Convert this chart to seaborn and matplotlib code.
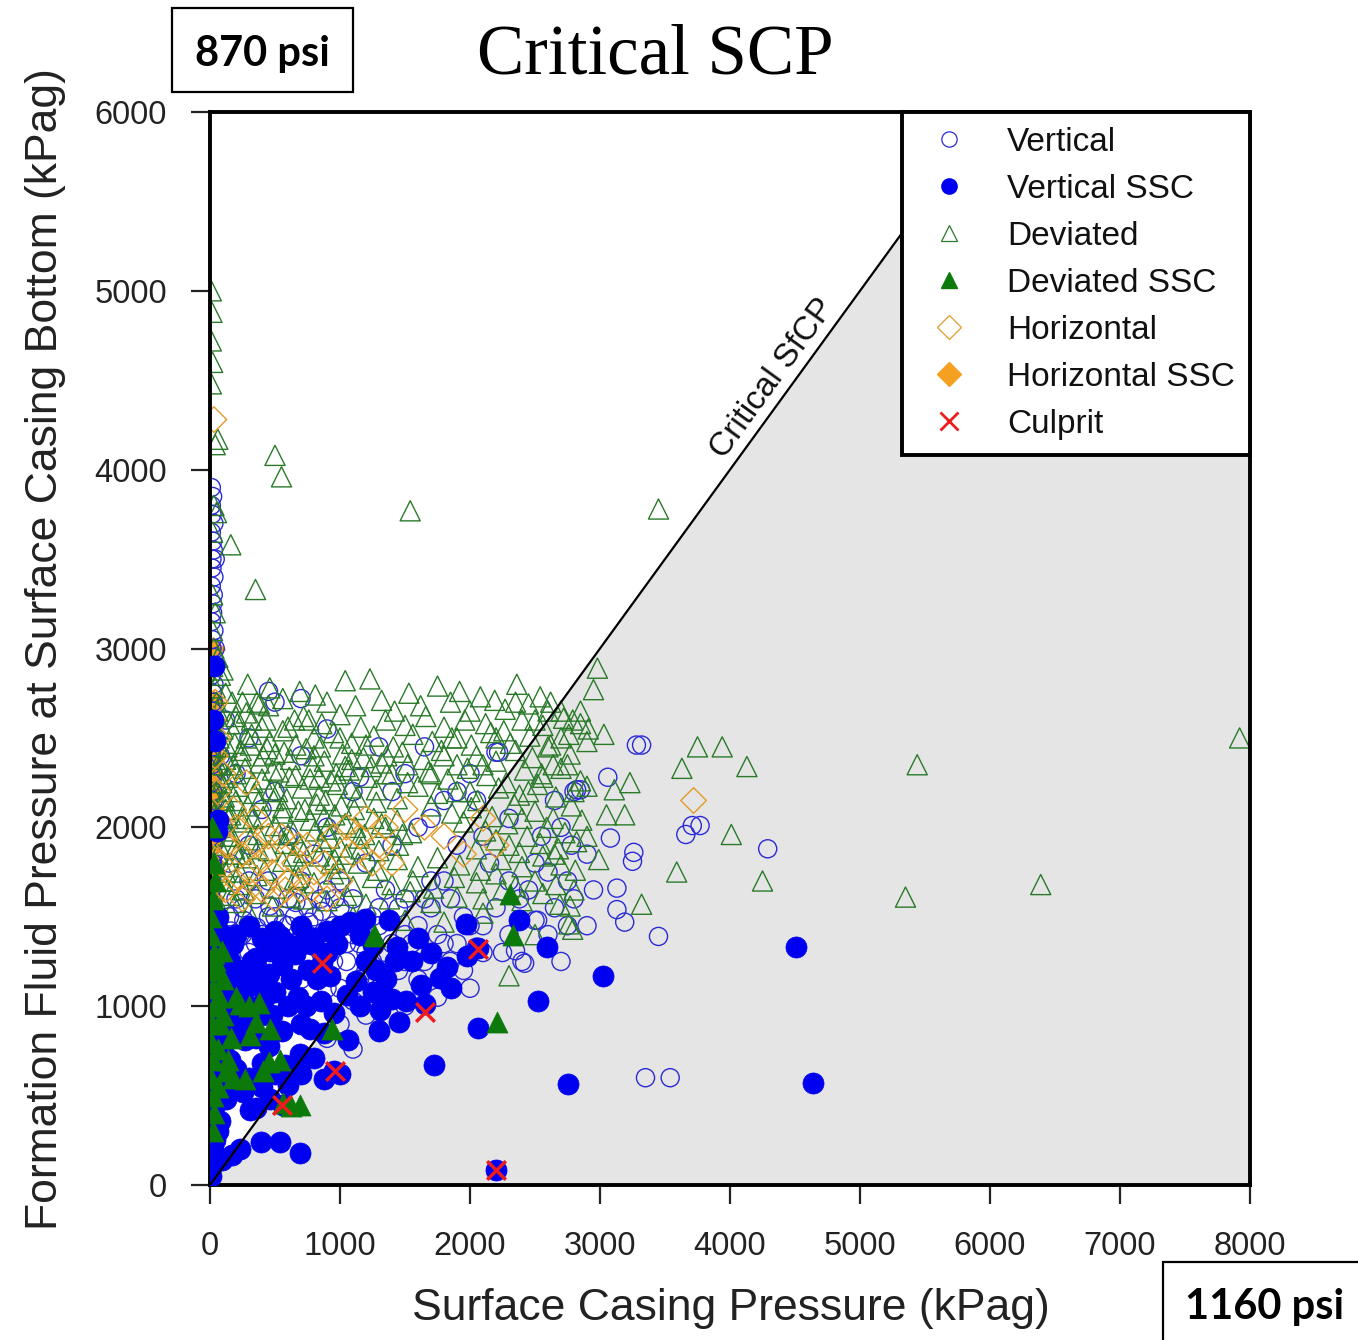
import matplotlib
matplotlib.use("Agg")
import matplotlib.pyplot as plt
import seaborn as sns
import pandas as pd
from matplotlib.lines import Line2D
from matplotlib.patches import Rectangle

# ---------------- data (kPag) ----------------
x_ticks = [0, 1000, 2000, 3000, 4000, 5000, 6000, 7000, 8000]
y_ticks = [0, 1000, 2000, 3000, 4000, 5000, 6000]

sfcp_x = [0, 6000]
sfcp_y = [0, 6000]

vertical_pts = [
    (10, 3900), (20, 3850), (15, 3750), (10, 3650), (25, 3550), (15, 3450), (10, 3350), (20, 3250), (10, 3150), (15, 3050),
    (25, 2950), (10, 2850), (20, 2750), (15, 2650), (10, 2550), (20, 2450), (15, 2350), (10, 2250), (25, 2150), (15, 2050),
    (10, 1950), (20, 1850), (15, 1750), (10, 1650), (25, 1550), (15, 1450), (10, 1350), (20, 1250), (15, 1150), (10, 1050),
    (20, 950), (15, 850), (10, 750), (20, 650), (15, 550), (10, 450), (20, 350), (15, 250), (30, 3700), (30, 3400),
    (30, 3100), (30, 2800), (300, 1700), (450, 1500), (600, 1450), (750, 1550), (900, 1400), (1050, 1350), (1200, 1450), (1350, 1300),
    (1500, 1400), (1650, 1250), (1800, 1350), (1950, 1200), (2100, 1450), (2250, 1300), (2400, 1250), (2500, 1480), (2600, 1750), (2750, 1700),
    (2900, 1850), (2800, 2200), (2850, 2210), (2200, 2420), (2000, 2300), (1800, 2150), (1600, 2000), (1400, 1900), (1200, 1800), (1000, 1700),
    (800, 1850), (600, 1950), (400, 2100), (200, 2300), (300, 2500), (500, 2700), (700, 2720), (450, 2760), (900, 2550), (1150, 2280),
    (1400, 2200), (1650, 2450), (2050, 2150), (2300, 2050), (2550, 1950), (2700, 2000), (2450, 1650), (2150, 1800), (1900, 1900), (1700, 1700),
    (1500, 1600), (1300, 1550), (1100, 1600), (950, 1250), (1150, 1150), (1300, 1100), (1450, 1200), (1600, 1150), (1750, 1050), (2000, 1100),
    (1100, 1030), (900, 1100), (700, 1150), (500, 1250), (350, 1350), (250, 1550), (150, 1800), (100, 2000), (80, 2400), (120, 2600),
    (1850, 1600), (2650, 1550), (2950, 1650), (1950, 1500), (1250, 1250), (850, 1300), (650, 1350), (1000, 900), (1100, 760), (900, 820),
    (1200, 950), (1300, 870), (1500, 1000), (2050, 1330), (2380, 1600), (2780, 1900), (2650, 2150), (3280, 2460), (3320, 2460), (3060, 2280),
    (3080, 1940), (3260, 1860), (3250, 1810), (3130, 1660), (3130, 1540), (3190, 1470), (3450, 1390), (3660, 1960), (3710, 2010), (3770, 2010),
    (4290, 1880), (3350, 600), (3540, 600), (2820, 2210), (2750, 1450), (2420, 1240), (2350, 1310), (2520, 1480), (2220, 2420),
    (10, 3800), (20, 3600), (15, 3500), (25, 3300), (20, 3200), (15, 3000), (10, 2900), (25, 2700), (20, 2600), (15, 2500),
    (10, 2400), (25, 2300), (20, 2200), (15, 2100), (10, 2000), (25, 1900), (20, 1800), (15, 1700), (10, 1600), (25, 1500),
    (20, 1400), (15, 1300), (10, 1200), (25, 1100), (20, 1000), (15, 900), (10, 800), (25, 700), (20, 600), (15, 500),
    (10, 400), (25, 300), (20, 200), (40, 3500), (40, 3000), (45, 2500), (40, 2000), (45, 1500), (40, 1000), (45, 500),
    (200, 1200), (300, 1300), (400, 1400), (500, 1500), (600, 1600), (700, 1700), (800, 1500), (900, 1650), (1000, 1550), (1100, 1400),
    (1200, 1300), (1300, 1450), (1400, 1350), (1500, 1250), (1600, 1450), (1700, 1550), (1800, 1700), (1900, 1350), (2000, 1450), (2100, 1300),
    (2200, 1550), (2300, 1400), (150, 1500), (250, 1400), (350, 1600), (450, 1700), (550, 1300), (650, 1500), (750, 1400), (850, 1600),
    (950, 1450), (1050, 1250), (1150, 1350), (1250, 1500), (1350, 1650), (1450, 1550), (1550, 1350), (1650, 1600), (1750, 1400), (1850, 1250),
    (100, 1300), (200, 1600), (300, 1900), (500, 2200), (700, 2400), (900, 2000), (1100, 2200), (1300, 2450), (1500, 2300), (1700, 2050),
    (1900, 2200), (2100, 1950), (2300, 1700), (2500, 1800), (2600, 1400), (2700, 1250), (2800, 1600), (2900, 1450), (1000, 1100), (1200, 1200),
    (60, 1450), (160, 1420), (260, 1480), (360, 1440), (460, 1560), (560, 1460), (660, 1580), (760, 1470), (860, 1530), (960, 1600),
]

vertical_ssc_pts = [
    (10, 100), (20, 200), (15, 300), (10, 400), (25, 500), (15, 600), (10, 700), (20, 800), (15, 900), (10, 1000),
    (25, 1100), (15, 1200), (10, 1300), (20, 1400), (15, 1500), (60, 2040), (40, 2480), (30, 2900), (50, 1980), (20, 2600),
    (4510, 1330), (4640, 570), (3020, 1170), (2750, 565), (2520, 1030), (2590, 1330), (2380, 1480), (2060, 1325), (1970, 1460), (2060, 880),
    (1720, 670), (2200, 84), (1650, 1010), (1620, 1120), (1770, 1160), (1820, 1220), (1980, 1280), (1450, 910), (1310, 980), (1300, 860),
    (1510, 1030), (1380, 1480), (1440, 1330), (1250, 1340), (1120, 1140), (1060, 810), (1000, 620), (880, 590), (690, 180), (390, 240),
    (230, 200), (170, 170), (90, 140), (540, 240), (310, 420), (460, 480), (580, 670), (690, 730), (770, 870), (850, 1030),
    (920, 1170), (690, 1340), (540, 1390), (460, 1310), (350, 1120), (230, 980), (150, 700), (270, 810), (120, 480), (80, 360),
    (400, 550), (1080, 1470), (1190, 1490), (860, 1240), (950, 640), (560, 450), (200, 1400), (300, 1450), (400, 1380), (500, 1420),
    (600, 1350), (700, 1450), (800, 1380), (900, 1420), (150, 1250), (250, 1200), (350, 1270), (450, 1180), (550, 1230), (650, 1290),
    (750, 1200), (100, 1100), (200, 1050), (300, 1000), (400, 950), (500, 1080), (600, 1000), (700, 900), (150, 900), (250, 880),
    (350, 820), (450, 780), (550, 860), (100, 750), (200, 650), (300, 600), (400, 680), (500, 620), (600, 560), (250, 520),
    (150, 560), (50, 600), (350, 430), (700, 620), (800, 710), (880, 850), (950, 960), (1050, 1060), (1150, 1000), (1250, 1080),
    (1350, 1150), (1400, 1040), (1550, 1250), (1700, 1300), (1600, 1380), (1850, 1100),
    (10, 50), (30, 150), (40, 250), (30, 350), (40, 450), (30, 550), (40, 650), (30, 750), (40, 850), (30, 950),
    (40, 1050), (30, 1150), (40, 1250), (30, 1350), (40, 1450), (60, 1500), (70, 1300), (60, 1100), (70, 900), (60, 700),
    (70, 500), (60, 300), (100, 1400), (120, 1200), (130, 1000), (110, 850), (140, 650), (100, 550), (180, 1350), (220, 1150),
    (260, 950), (280, 1100), (320, 1250), (380, 1150), (420, 1050), (480, 950), (520, 1300), (620, 1150), (680, 1050), (740, 1000),
    (780, 1350), (820, 1150), (900, 1300), (980, 1350), (1000, 1450), (1150, 1400), (1200, 1250), (1280, 1200), (1350, 1050), (1420, 1250),
]

deviated_pts = [
    (10, 5000), (15, 4880), (10, 4720), (20, 4600), (10, 4480), (60, 4170), (40, 4140), (30, 3800), (50, 3760), (20, 3650),
    (30, 3000), (60, 2950), (20, 2900), (80, 2850), (40, 2780), (500, 4080), (550, 3960), (160, 3580), (350, 3330), (1540, 3770),
    (3450, 3780), (7920, 2500), (5440, 2350), (5350, 1610), (6390, 1680), (4250, 1700), (4130, 2340), (3940, 2450), (3750, 2450), (3630, 2330),
    (4010, 1960), (3590, 1750), (3320, 1570), (2300, 1170), (2790, 1430), (2770, 1560), (2810, 1760), (3050, 2070), (3110, 2210), (3190, 2070),
    (3230, 2250), (2990, 1820), (2980, 2890), (2950, 2770), (2790, 2600), (3030, 2520), (2910, 2550),
    (460, 2780), (690, 2760), (810, 2740), (1040, 2820), (1230, 2830), (1530, 2750), (1750, 2790), (1920, 2760), (2080, 2730), (2190, 2710),
    (2360, 2800), (2540, 2730), (120, 2750), (250, 2700), (380, 2690), (560, 2720), (900, 2700), (1120, 2680), (1320, 2710), (1420, 2650),
    (1620, 2680), (1850, 2700), (2000, 2650), (2270, 2660), (2450, 2690), (2620, 2700), (2700, 2650),
    (30, 2620), (150, 2580), (280, 2640), (430, 2600), (600, 2560), (720, 2620), (860, 2580), (1000, 2630), (1160, 2560), (1350, 2600),
    (1500, 2570), (1660, 2620), (1800, 2560), (1960, 2600), (2120, 2580), (2260, 2540), (2400, 2600), (2560, 2570), (2720, 2610), (2850, 2580),
    (70, 2500), (190, 2470), (320, 2520), (460, 2480), (560, 2540), (660, 2460), (800, 2500), (950, 2530), (1090, 2470), (1260, 2510),
    (1410, 2450), (1560, 2520), (1710, 2480), (1860, 2500), (2010, 2460), (2160, 2530), (2310, 2470), (2460, 2510), (2620, 2460), (2760, 2520),
    (2900, 2480), (20, 2400), (120, 2380), (240, 2430), (380, 2360), (500, 2410), (620, 2380), (740, 2440), (880, 2370), (1020, 2410),
    (1180, 2390), (1320, 2360), (1480, 2420), (1640, 2380), (1780, 2430), (1900, 2350), (2050, 2400), (2200, 2370), (2350, 2430), (2480, 2390),
    (2640, 2350), (2770, 2410), (40, 2300), (140, 2280), (270, 2330), (400, 2270), (530, 2310), (660, 2290), (790, 2340), (930, 2260),
    (1070, 2320), (1210, 2280), (1360, 2300), (1520, 2250), (1680, 2310), (1830, 2270), (1980, 2330), (2130, 2290), (2280, 2250), (2420, 2320),
    (2560, 2280), (2700, 2330), (2850, 2260), (10, 2200), (110, 2170), (220, 2230), (340, 2190), (470, 2210), (590, 2160), (710, 2220),
    (840, 2180), (980, 2240), (1130, 2170), (1280, 2210), (1440, 2160), (1600, 2230), (1750, 2190), (1900, 2200), (2060, 2150), (2220, 2220),
    (2380, 2180), (2520, 2240), (2660, 2170), (2800, 2200), (2900, 2230), (50, 2100), (160, 2070), (290, 2120), (410, 2060), (560, 2110),
    (680, 2090), (820, 2130), (960, 2070), (1110, 2100), (1260, 2050), (1700, 2120), (1860, 2080), (2010, 2110), (2170, 2060), (2340, 2130),
    (2500, 2090), (2640, 2050), (2780, 2120), (25, 2000), (130, 1980), (250, 2030), (370, 1960), (500, 2010), (640, 1970), (770, 2040),
    (900, 1990), (1040, 2020), (1190, 1960), (1350, 2000), (1550, 1970), (1950, 2030), (2120, 1980), (2290, 2020), (2440, 1950), (2590, 2000),
    (2730, 1970), (2860, 2040), (70, 1900), (190, 1880), (310, 1930), (450, 1870), (580, 1910), (720, 1860), (860, 1920), (1000, 1890),
    (1150, 1940), (1300, 1870), (1450, 1900), (2050, 1880), (2200, 1930), (2380, 1860), (2540, 1910), (2680, 1880), (2820, 1920), (30, 1800),
    (150, 1780), (280, 1830), (420, 1760), (560, 1810), (700, 1790), (840, 1840), (990, 1770), (1140, 1800), (1290, 1760), (1440, 1820),
    (1600, 1780), (1750, 1830), (1920, 1790), (2080, 1760), (2240, 1820), (2400, 1780), (2560, 1840), (2700, 1790), (90, 1700), (220, 1680),
    (360, 1730), (500, 1660), (650, 1710), (800, 1690), (950, 1740), (1100, 1670), (1250, 1720), (1400, 1680), (1560, 1700), (1720, 1660),
    (1880, 1720), (2050, 1690), (2200, 1740), (2350, 1670), (2500, 1700), (2660, 1680), (40, 1600), (200, 1580), (350, 1630), (480, 1560),
    (620, 1610), (900, 1590), (1050, 1620), (1200, 1570), (1380, 1600), (1540, 1640), (1700, 1580), (1900, 1610), (2100, 1600), (2250, 1650),
    (2400, 1590), (2560, 1630), (2690, 1570), (60, 1500), (300, 1520), (1100, 1500), (1500, 1480), (1800, 1470), (2100, 1520), (2760, 1460),
    (2500, 1400), (60, 2650), (100, 2550), (180, 2350), (90, 2250), (200, 2150), (130, 2450), (260, 2050), (330, 2250), (70, 2050),
    (150, 1950), (240, 1850), (120, 1750), (210, 2580), (310, 2460), (380, 2150), (60, 2350), (170, 2700), (290, 2800), (100, 2880),
    (200, 2620),
    (20, 2550), (50, 2450), (80, 2350), (110, 2150), (140, 2050), (170, 1950), (200, 1850), (230, 1750), (260, 1650), (60, 1850),
    (100, 1700), (150, 1620), (40, 1950), (80, 2000), (120, 2100), (160, 2200), (200, 2300), (240, 2400), (280, 2500), (320, 2600),
    (360, 2700), (400, 2560), (440, 2440), (480, 2320), (520, 2200), (560, 2080), (600, 1960), (640, 1840), (680, 1720), (720, 1600),
    (760, 2600), (800, 2400), (840, 2280), (880, 2060), (920, 1940), (960, 1820), (1000, 2500), (1040, 2340), (1080, 2220), (1120, 2000),
    (1160, 1880), (1200, 2460), (1240, 2340), (1280, 2140), (1320, 2020), (1360, 2400), (1400, 2300), (1440, 2040), (1480, 1960), (1520, 2350),
    (330, 2050), (370, 1880), (410, 2400), (450, 2680), (490, 2150), (530, 1960), (570, 2420), (610, 2280), (650, 2600), (690, 1900),
    (730, 2100), (770, 2270), (810, 1980), (850, 2450), (890, 2150), (930, 1800), (970, 2300), (1010, 2120), (1050, 1850), (1090, 2380),
    (20, 3300), (40, 3200), (20, 3100), (50, 2700), (30, 2500), (35, 2200), (15, 2100), (45, 1700), (25, 1550), (60, 2300),
    (1700, 2300), (1800, 2400), (1900, 2500), (2000, 2200), (2100, 2350), (2200, 2500), (2300, 1900), (2400, 2050), (2450, 2200), (2550, 2300),
    (2600, 2450), (2650, 1850), (2700, 2500), (2750, 2350), (2800, 1650), (2850, 2650), (2900, 1950), (2600, 2650), (2500, 2600), (2350, 2700),
]

deviated_ssc_pts = [
    (2210, 910), (2330, 1400), (1270, 1390), (690, 450), (620, 440), (560, 460), (460, 870), (350, 910), (230, 1010), (310, 840),
    (410, 640), (270, 590), (180, 600), (120, 640), (60, 760), (90, 1310), (40, 1260), (20, 300), (20, 500), (15, 900),
    (25, 1100), (10, 1400), (20, 1600), (30, 1800), (15, 2000), (2310, 1630), (940, 870), (200, 1050), (100, 1150), (300, 1000),
    (380, 1020), (160, 820), (450, 690), (540, 700), (1260, 1400),
    (10, 600), (20, 700), (10, 800), (30, 1000), (20, 1200), (30, 1300), (10, 1500), (40, 1700), (70, 1050), (80, 900),
    (50, 1200), (100, 950), (140, 700), (60, 550), (30, 400),
]

horizontal_pts = [
    (30, 4280), (3720, 2150), (20, 2600), (40, 2400), (60, 2200), (100, 2000), (150, 1900), (80, 1800), (200, 1700), (120, 1650),
    (250, 1600), (300, 1750), (400, 1650), (500, 1600), (600, 1700), (700, 1650), (800, 1750), (900, 1600), (350, 1900), (450, 1850),
    (550, 1950), (650, 1800), (750, 1900), (1000, 1700), (1100, 1850), (1300, 1900), (1500, 2100), (1650, 2000), (1800, 1950), (1950, 1850),
    (2100, 2050), (2200, 1900), (1200, 2050), (1400, 1800), (180, 2100), (280, 2250), (250, 1850),
    (50, 1700), (120, 1900), (200, 2000), (300, 1650), (380, 1800), (480, 1750), (580, 1650), (680, 1900), (780, 1650), (880, 1800),
    (950, 1950), (1050, 2000), (1150, 1950), (1250, 1800), (1350, 2000), (100, 2300), (60, 2500), (40, 2700), (350, 2050), (450, 1950),
]

horizontal_ssc_pts = [
    (20, 2900), (25, 2700), (15, 2500), (20, 2300), (25, 2100), (15, 1950), (20, 1800), (25, 2600), (20, 2200), (10, 2000),
    (30, 1750), (20, 1600), (25, 3000), (15, 1900), (30, 2400),
]

culprit_pts = [(860, 1240), (960, 640), (550, 450), (1650, 970), (2060, 1320), (2200, 84)]

legend_labels = ["Vertical", "Vertical SSC", "Deviated", "Deviated SSC",
                 "Horizontal", "Horizontal SSC", "Culprit"]

# ---------------- style ----------------
BLUE_OPEN = "#2b2bd6"
BLUE = "#0000f0"
GREEN_OPEN = "#2a7a2a"
GREEN = "#0b7a0b"
ORANGE_OPEN = "#e49a28"
ORANGE = "#f5a020"
RED = "#ee1c1c"

sns.set_theme(style="ticks")
plt.rcParams["font.family"] = ["Liberation Sans", "DejaVu Sans"]

fig = plt.figure(figsize=(13.58, 13.4), dpi=100)
ax = fig.add_axes([210 / 1358, 1 - 1185 / 1340, 1040 / 1358, 1073 / 1340])

# shaded region below critical line
ax.fill_between([sfcp_x[0], sfcp_x[1], x_ticks[-1]],
                [sfcp_y[0], sfcp_y[1], y_ticks[-1]], 0,
                color="#e5e5e5", lw=0, zorder=0)


def draw(pts, marker, s, fc, ec, lw, z):
    df = pd.DataFrame({"x": [p[0] for p in pts], "y": [p[1] for p in pts]})
    sns.scatterplot(data=df, x="x", y="y", marker=marker, s=s, color=ec,
                    linewidth=lw, ax=ax, zorder=z, legend=False)
    coll = ax.collections[-1]
    coll.set_facecolor(fc)
    coll.set_edgecolor(ec)
    coll.set_linewidth(lw)


draw(horizontal_ssc_pts, "D", 150, ORANGE, ORANGE, 0.5, 1.9)
draw(vertical_pts, "o", 170, "none", BLUE_OPEN, 1.0, 2)
draw(deviated_pts, "^", 210, "none", GREEN_OPEN, 1.0, 2.1)
draw(horizontal_pts, "D", 170, "none", ORANGE_OPEN, 1.0, 2.2)
draw(vertical_ssc_pts, "o", 230, BLUE, BLUE, 0.5, 3)
draw(deviated_ssc_pts, "^", 230, GREEN, GREEN, 0.5, 3.1)
draw(culprit_pts, "x", 180, RED, RED, 2.5, 6)

sns.lineplot(x=sfcp_x, y=sfcp_y, color="black", lw=1.6, ax=ax, zorder=5)

ax.text(4330, 4510, "Critical SfCP", rotation=54, rotation_mode="anchor",
        ha="center", va="center", fontsize=24, color="#111111", zorder=5)

ax.set_xlim(x_ticks[0], x_ticks[-1])
ax.set_ylim(y_ticks[0], y_ticks[-1])
ax.set_xticks(x_ticks)
ax.set_yticks(y_ticks)
ax.set_xlabel("Surface Casing Pressure (kPag)", fontsize=32, color="#222222")
ax.set_ylabel("Formation Fluid Pressure at Surface Casing Bottom (kPag)", fontsize=32,
              color="#222222")
ax.xaxis.set_label_coords((731 - 210) / 1040, (1185 - 1288) / 1073)
ax.yaxis.set_label_coords((66 - 210) / 1040, (1185 - 649) / 1073)
ax.tick_params(axis="both", direction="out", length=14, width=1.6, labelsize=23.5,
               colors="#222222")
ax.tick_params(axis="x", pad=19)
ax.tick_params(axis="y", pad=17)
for sp in ax.spines.values():
    sp.set_visible(True)
    sp.set_linewidth(2.8)
    sp.set_color("black")

handles = [
    Line2D([], [], ls="none", marker="o", ms=11, mfc="none", mec=BLUE_OPEN, mew=0.9),
    Line2D([], [], ls="none", marker="o", ms=11, mfc=BLUE, mec=BLUE),
    Line2D([], [], ls="none", marker="^", ms=12, mfc="none", mec=GREEN_OPEN, mew=0.9),
    Line2D([], [], ls="none", marker="^", ms=12, mfc=GREEN, mec=GREEN),
    Line2D([], [], ls="none", marker="D", ms=12, mfc="none", mec=ORANGE_OPEN, mew=0.9),
    Line2D([], [], ls="none", marker="D", ms=12, mfc=ORANGE, mec=ORANGE),
    Line2D([], [], ls="none", marker="x", ms=13, mec=RED, mew=2),
]
leg = ax.legend(handles, legend_labels, loc="upper right", bbox_to_anchor=(1, 1),
                borderaxespad=0, frameon=True, fancybox=False, edgecolor="black",
                fontsize=24, handlelength=1.9, handletextpad=0.8, labelspacing=0.48,
                borderpad=0.45, framealpha=1)
leg.get_frame().set_linewidth(2.8)
leg.set_zorder(10)
for t in leg.get_texts():
    t.set_color("#111111")

# title and psi boxes
fig.text(655 / 1358, 1 - 56 / 1340, "Critical SCP", family=["Liberation Serif", "DejaVu Serif"],
         fontsize=51, ha="center", va="center", color="black")
fig.add_artist(Rectangle((172 / 1358, 1 - 92 / 1340), 181 / 1358, 84 / 1340,
                         transform=fig.transFigure, fill=False, lw=1.6, ec="black"))
fig.text(262 / 1358, 1 - 54 / 1340, "870 psi", family=["Lato", "DejaVu Sans"],
         fontweight="bold", fontsize=30, ha="center", va="center", color="black")
fig.add_artist(Rectangle((1163 / 1358, -0.01), 0.2, (1340 - 1262) / 1340 + 0.01,
                         transform=fig.transFigure, fill=False, lw=1.6, ec="black"))
fig.text(1265 / 1358, 1 - 1307 / 1340, "1160 psi", family=["Lato", "DejaVu Sans"],
         fontweight="bold", fontsize=30, ha="center", va="center", color="black")

fig.savefig("out.png", dpi=100)
